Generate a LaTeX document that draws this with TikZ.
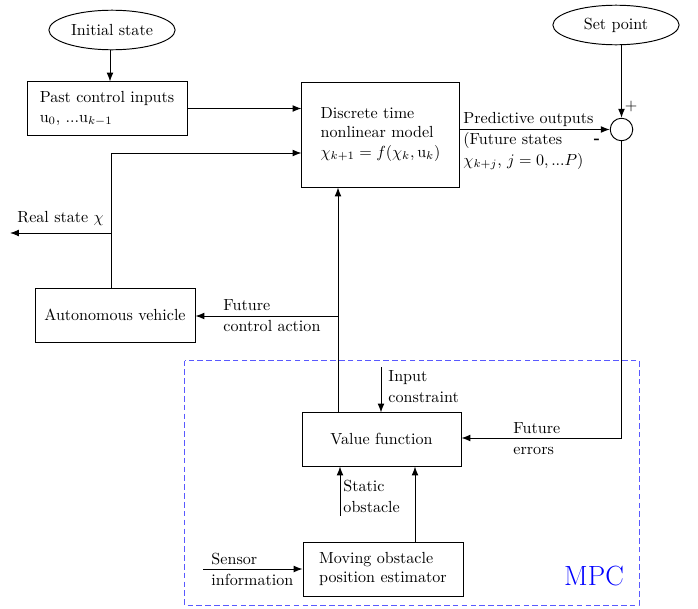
\documentclass[tikz,border=0pt]{standalone}
\usetikzlibrary{arrows.meta,shapes.geometric}
\begin{document}
\begin{tikzpicture}[x=0.622pt,y=-0.622pt,
  line width=0.6pt,
  arr/.style={-{Latex[length=5.5pt,width=4.2pt]}},
  blk/.style={draw,rectangle,align=left,inner sep=0pt},
  ell/.style={draw,ellipse,inner sep=0pt,minimum width=78.5pt,minimum height=24.6pt},
  lbl/.style={align=left,inner sep=0pt,anchor=west}]
\useasboundingbox (0,0) rectangle (698,608);

% MPC dashed frame
\draw[blue!65,dash pattern=on 3.5pt off 2pt] (184.5,360.5) rectangle (639,605);
\node[text=blue,font=\LARGE,inner sep=0pt] (mpc) at (594,576) {MPC};

% nodes
\node[ell] (init) at (112,30) {Initial state};
\node[ell] (sp) at (616,25) {Set point};
\node[blk,minimum width=99.5pt,minimum height=33pt] (past) at (107,108.5)
  {Past control inputs\\[0.5pt] u$_0$, ...u$_{k-1}$};
\node[blk,minimum width=97.7pt,minimum height=65.3pt] (model) at (380.5,134.5)
  {Discrete time\\ nonlinear model\\ $\chi_{k+1}=f(\chi_k,\mathrm{u}_k)$};
\node[draw,circle,minimum size=14pt,inner sep=0pt] (sum) at (621.5,129.5) {};
\node[blk,minimum width=99.5pt,minimum height=33.6pt] (veh) at (115,315) {Autonomous vehicle};
\node[blk,minimum width=98.9pt,minimum height=33pt] (val) at (381.5,439.5) {Value function};
\node[blk,minimum width=99.5pt,minimum height=33.6pt] (mov) at (383,569)
  {Moving obstacle\\ position estimator};

% labels
\node[lbl] (lrs) at (17,218) {Real state $\chi$};
\node[lbl] (lfc) at (223,316) {Future\\[1pt] control action};
\node[lbl] (lpo) at (463,141) {Predictive outputs\\[1pt] (Future states\\[1pt] $\chi_{k+j}$, $j=0,...P$)};
\node[inner sep=0pt] (lplus) at (631,106) {+};
\node[inner sep=0pt,font=\bfseries] (lminus) at (597,141) {-};
\node[lbl] (lfe) at (513,439) {Future\\[1pt] errors};
\node[lbl] (lic) at (388,387) {Input\\[1pt] constraint};
\node[lbl] (lso) at (343,496) {Static\\[1pt] obstacle};
\node[lbl] (lsi) at (211,569) {Sensor\\[1pt] information};

% coordinates
\coordinate (cI) at (110,50);
\coordinate (cA) at (111,153);
\coordinate (cRS) at (111,233);
\coordinate (cRSend) at (10,233);
\coordinate (cV) at (338,316);
\coordinate (cIC) at (381,367);
\coordinate (cSO) at (340,516);
\coordinate (cMV) at (415,500);
\coordinate (cSI) at (203,569);
\coordinate (cFE) at (621.5,438);

% connectors
\draw[arr] (cI) -- (cI |- past.north);
\draw[arr] (past.east) -- (past.east -| model.west);
\draw[arr] (veh.north -| cA) -- (cA) -- (cA -| model.west);
\draw[arr] (cRS) -- (cRSend);
\draw[arr] (val.north -| cV) -- (model.south -| cV);
\draw[arr] (cV) -- (cV -| veh.east);
\draw[arr] (sp.south -| sum) -- (sum.north);
\draw[arr] (sum.west -| model.east) -- (sum.west);
\draw[arr] (sum.south) -- (cFE) -- (cFE -| val.east);
\draw[arr] (cIC) -- (cIC |- val.north);
\draw[arr] (cSO) -- (cSO |- val.south);
\draw[arr] (mov.north -| cMV) -- (val.south -| cMV);
\draw[arr] (cSI) -- (cSI -| mov.west);
\end{tikzpicture}
\end{document}
